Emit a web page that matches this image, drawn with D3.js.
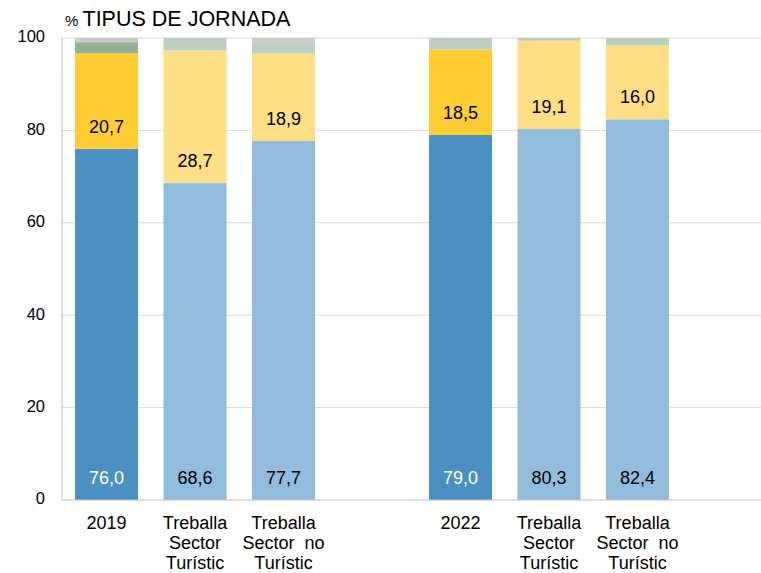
<!DOCTYPE html>
<html><head><meta charset="utf-8">
<script src="https://cdn.jsdelivr.net/npm/d3@7"></script>
<style>body{margin:0;background:#fff}svg{display:block;font-family:"Liberation Sans",Arial,sans-serif}</style>
</head><body><div id="chart"></div>
<script>
const categories = ["2019","Treballa Sector Turístic 2019","Treballa Sector  no Turístic 2019","gap1","2022","Treballa Sector Turístic 2022","Treballa Sector  no Turístic 2022","gap2"];
const labelLines = [["2019"],["Treballa","Sector","Turístic"],["Treballa","Sector  no","Turístic"],[],["2022"],["Treballa","Sector","Turístic"],["Treballa","Sector  no","Turístic"],[]];
const isTotal = [true,false,false,null,true,false,false,null];
const completa = [76.0,68.6,77.7,null,79.0,80.3,82.4,null];
const parcial  = [20.7,28.7,18.9,null,18.5,19.1,16.0,null];
const altres   = [2.4,2.7,2.5,null,2.5,0.6,1.6,null];
const nsnc     = [0.9,0.0,0.9,null,0.0,0.0,0.0,null];
const yTicks = [0,20,40,60,80,100];

(function(){
const W=761,H=573, pL=62, pR=770.5, pT=38, pB=500;
const svg=d3.select("#chart").append("svg").attr("width",W).attr("height",H);
const x=d3.scaleBand().domain(categories).range([pL,pR]).paddingInner(0.288).paddingOuter(0.147);
const y=d3.scaleLinear().domain([0,100]).range([pB,pT]);

svg.append("g").selectAll("line").data(yTicks.filter(d=>d>0)).join("line")
 .attr("x1",pL).attr("x2",W).attr("y1",d=>y(d)).attr("y2",d=>y(d))
 .attr("stroke","#d9d9d9").attr("stroke-width",1);

const colTot={c:"#4a90c2",p:"#ffcc33",a:"#92b094",n:"#c8c8c8"};
const colTot22={c:"#4a90c2",p:"#ffcc33",a:"#bccfc0",n:"#c8c8c8"};
const colSec={c:"#92bcdc",p:"#ffdf85",a:"#bccfc0",n:"#cccccc"};

categories.forEach((cat,i)=>{
  if(completa[i]==null) return;
  const cols=isTotal[i]?(i===0?colTot:colTot22):colSec;
  const segs=[["c",completa[i]],["p",parcial[i]],["a",altres[i]],["n",nsnc[i]]];
  let base=0;
  segs.forEach(([k,v])=>{
    if(v<=0) return;
    const t2=Math.min(100,base+v);
    svg.append("rect").attr("x",x(cat)).attr("width",x.bandwidth())
      .attr("y",y(t2)).attr("height",y(base)-y(t2)).attr("fill",cols[k]);
    if(k==="c"||k==="p"){
      svg.append("text").attr("x",x(cat)+x.bandwidth()/2).attr("y",y(base)-21)
        .attr("text-anchor","middle").attr("dominant-baseline","middle")
        .attr("font-size",18).attr("fill",(k==="c"&&isTotal[i])?"#ffffff":"#000000")
        .text(v.toFixed(1).replace(".",","));
    }
    base=t2;
  });
});

svg.append("line").attr("x1",pL).attr("x2",pL).attr("y1",pT).attr("y2",pB).attr("stroke","#bfbfbf");
svg.append("line").attr("x1",pL).attr("x2",W).attr("y1",pB).attr("y2",pB).attr("stroke","#bfbfbf");

svg.append("g").selectAll("text").data(yTicks).join("text")
 .attr("x",45).attr("y",d=>y(d)).attr("text-anchor","end").attr("dominant-baseline","middle")
 .attr("font-size",16.5).attr("fill","#000").text(d=>d);

categories.forEach((cat,i)=>{
  const cx=x(cat)+x.bandwidth()/2;
  const t=svg.append("text").attr("text-anchor","middle").attr("font-size",18).attr("fill","#000")
    .attr("x",cx).attr("y",529).style("white-space","pre");
  labelLines[i].forEach((ln,j)=>t.append("tspan").attr("x",cx).attr("y",529+j*20).text(ln));
});

const tt=svg.append("text").attr("x",65).attr("y",26).attr("fill","#000").style("white-space","pre");
tt.append("tspan").attr("font-size",15).text("% ");
tt.append("tspan").attr("font-size",21.5).text("TIPUS DE JORNADA");
})();
</script></body></html>
